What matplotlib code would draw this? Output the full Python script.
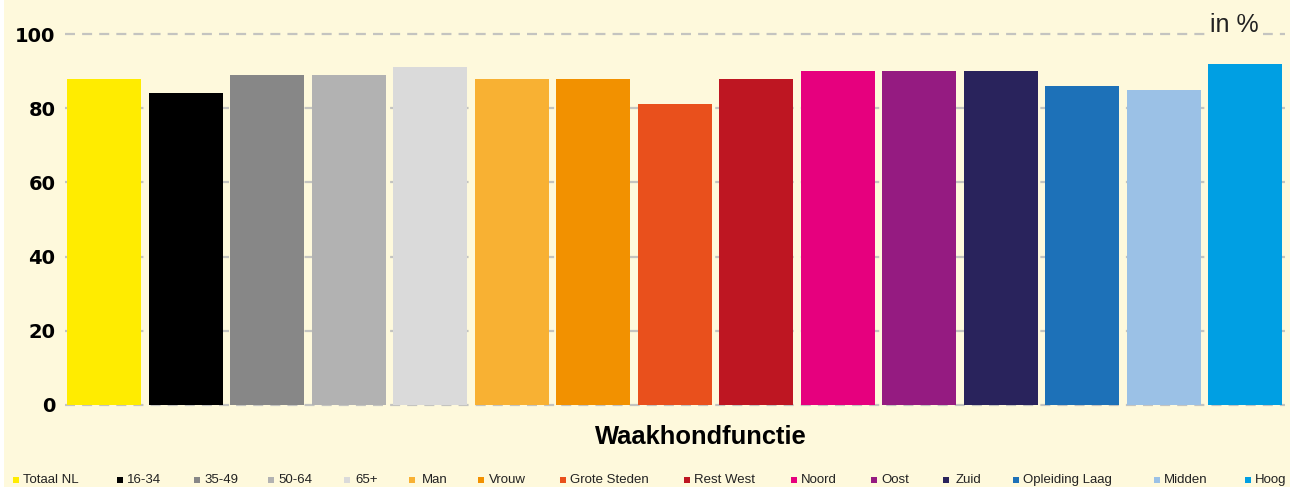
import matplotlib.pyplot as plt
from matplotlib.patches import Rectangle

groepen = ["Totaal NL", "16-34", "35-49", "50-64", "65+", "Man", "Vrouw",
           "Grote Steden", "Rest West", "Noord", "Oost", "Zuid",
           "Opleiding Laag", "Midden", "Hoog"]
waarden = [88, 84, 89, 89, 91, 88, 88, 81, 88, 90, 90, 90, 86, 85, 92]
kleuren = ["#FFEC00", "#000000", "#878787", "#B2B2B2", "#DADADA", "#F8B133",
           "#F29100", "#E9501C", "#BE1622", "#E6007E", "#951B81", "#29235C",
           "#1D71B8", "#9BC1E6", "#009FE3"]
yticks = [0, 20, 40, 60, 80, 100]

# legend x positions in pixels (layout only)
legend_x = [13, 117, 194, 268, 344, 409, 478, 560, 684, 791, 871, 943, 1013, 1154, 1245]
legend_gap = [10, 10, 10, 10, 11, 13, 11, 10, 10, 10, 10, 13, 10, 10, 10]

narrow = "Liberation Sans"

bg = "#FEF9DC"
W, H = 1290, 487
fig = plt.figure(figsize=(W / 100, H / 100), dpi=100, facecolor=bg)
fig.patches.append(Rectangle((0, 0), 4 / W, 1, transform=fig.transFigure,
                             facecolor="white", edgecolor="none"))

ax = fig.add_axes([65 / W, 1 - 405 / H, 1220 / W, 371 / H])
ax.set_facecolor(bg)
x = range(len(groepen))
ax.bar(x, waarden, width=0.908, color=kleuren, zorder=3)
ax.set_xlim(-0.48, 14.49)
ax.set_ylim(0, 100)
ax.set_yticks(yticks)
ax.set_yticklabels([str(v) for v in yticks], fontsize=14, fontweight="bold")
ax.tick_params(axis="y", length=0, pad=7)
ax.set_xticks([])
for v in yticks:
    ax.axhline(v, color="#C4C4C0", lw=1.6, ls=(0, (4.5, 3.2)), zorder=1, clip_on=False)
for s in ax.spines.values():
    s.set_visible(False)

fig.text(1234 / W, 1 - 25 / H, "in %", fontsize=18, family=narrow,
         ha="center", va="center", color="#222222",
         bbox=dict(facecolor=bg, edgecolor="none", pad=3))

fig.text(701 / W, 1 - 437 / H, "Waakhondfunctie", fontsize=18.4, family=narrow,
         fontweight="bold", ha="center", va="center")

for xp, gap, lab, kl in zip(legend_x, legend_gap, groepen, kleuren):
    fig.patches.append(Rectangle((xp / W, 1 - 483 / H), 6 / W, 6 / H,
                                 transform=fig.transFigure, facecolor=kl,
                                 edgecolor="none"))
    fig.text((xp + gap) / W, 1 - 483 / H, lab, fontsize=9.5, family=narrow,
             ha="left", va="baseline", color="#222222")

fig.savefig("out.png", dpi=100, facecolor=bg)
